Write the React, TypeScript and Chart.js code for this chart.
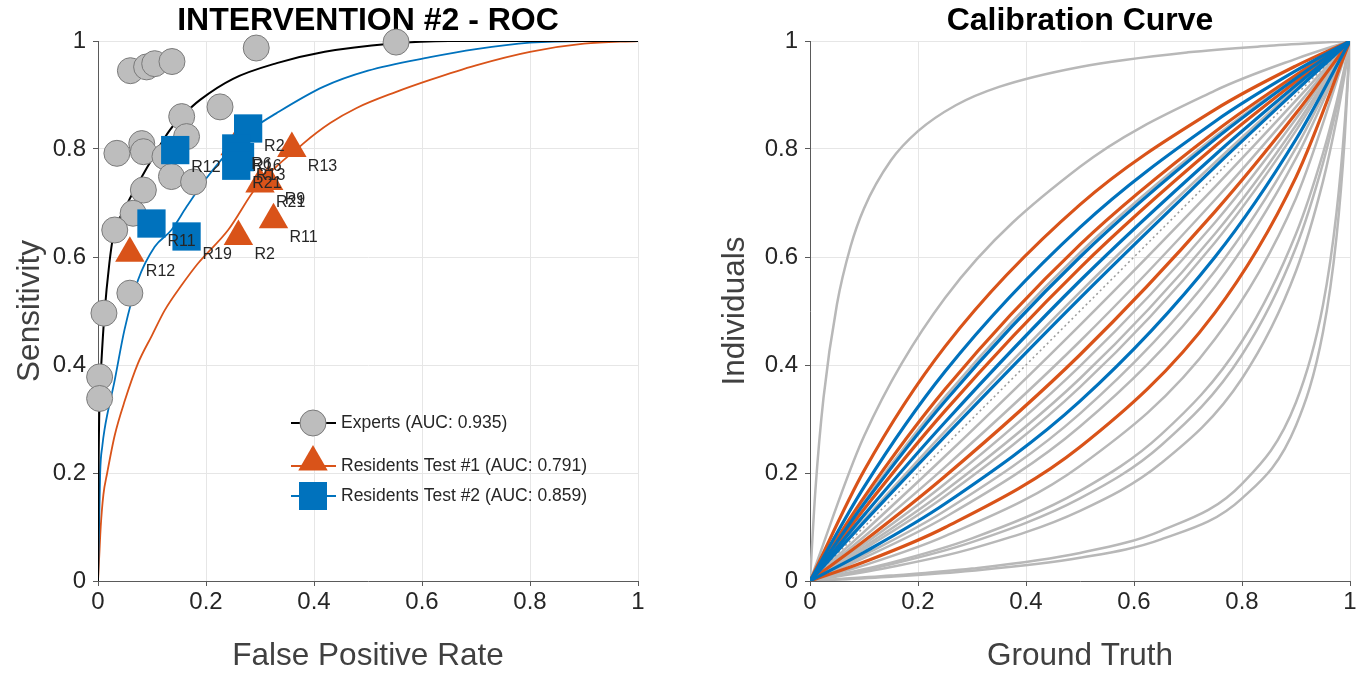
import React, { useEffect, useRef } from 'react';
import { Chart, registerables } from 'chart.js';

Chart.register(...registerables);

const FONT = '"Liberation Sans", Arial, Helvetica, sans-serif';
const ORANGE = '#D95319';
const BLUE = '#0072BD';

// ---------- ROC curves (False Positive Rate, Sensitivity) ----------
const expertsRocFpr = [0, 0.001, 0.003, 0.006, 0.012, 0.021, 0.028, 0.05, 0.078, 0.105, 0.133, 0.16, 0.189, 0.25, 0.331, 0.42, 0.541, 0.65, 0.8, 1];
const expertsRocTpr = [0, 0.2, 0.34, 0.4, 0.495, 0.588, 0.637, 0.69, 0.743, 0.79, 0.835, 0.865, 0.891, 0.93, 0.959, 0.98, 0.995, 1, 1, 1];

const test1RocFpr = [0, 0.002, 0.005, 0.01, 0.017, 0.031, 0.05, 0.074, 0.1, 0.124, 0.155, 0.185, 0.241, 0.294, 0.38, 0.43, 0.479, 0.55, 0.615, 0.7, 0.8, 0.9, 1];
const test1RocTpr = [0, 0.04, 0.1, 0.16, 0.2, 0.27, 0.335, 0.403, 0.455, 0.502, 0.548, 0.588, 0.65, 0.73, 0.81, 0.848, 0.876, 0.905, 0.928, 0.955, 0.98, 0.995, 1];

const test2RocFpr = [0, 0.002, 0.004, 0.008, 0.012, 0.031, 0.049, 0.074, 0.105, 0.136, 0.164, 0.2, 0.25, 0.29, 0.33, 0.417, 0.5, 0.615, 0.7, 0.8, 0.9, 1];
const test2RocTpr = [0, 0.1, 0.2, 0.25, 0.28, 0.372, 0.465, 0.557, 0.619, 0.65, 0.693, 0.745, 0.804, 0.84, 0.866, 0.915, 0.945, 0.97, 0.985, 0.997, 1, 1];

// ---------- Operating points ----------
const expertsFpr = [0.552, 0.293, 0.06, 0.09, 0.105, 0.137, 0.226, 0.155, 0.164, 0.035, 0.081, 0.084, 0.124, 0.136, 0.177, 0.084, 0.065, 0.031, 0.059, 0.011, 0.003, 0.003];
const expertsTpr = [0.998, 0.987, 0.945, 0.952, 0.958, 0.962, 0.878, 0.86, 0.823, 0.792, 0.81, 0.795, 0.786, 0.749, 0.739, 0.724, 0.681, 0.65, 0.533, 0.496, 0.378, 0.338];

const test1Labels = ['R12', 'R2', 'R11', 'R13', 'R9', 'R21', 'R6'];
const test1Fpr = [0.059, 0.26, 0.325, 0.359, 0.316, 0.3, 0.254];
const test1Tpr = [0.607, 0.638, 0.669, 0.801, 0.74, 0.735, 0.804];

const test2Labels = ['R12', 'R11', 'R19', 'R2', 'R16', 'R13', 'R21'];
const test2Fpr = [0.143, 0.099, 0.164, 0.278, 0.256, 0.263, 0.256];
const test2Tpr = [0.798, 0.662, 0.638, 0.838, 0.801, 0.785, 0.769];

const legendTexts = ['Experts (AUC: 0.935)', 'Residents Test #1 (AUC: 0.791)', 'Residents Test #2 (AUC: 0.859)'];

// ---------- Calibration curves (Ground Truth -> Individuals) ----------
const calGridMid = [0, 0.1, 0.25, 0.5, 0.75, 0.9, 1];
const calGridEarly = [0, 0.01, 0.025, 0.05, 0.075, 0.1, 0.15, 0.2, 0.27, 0.35, 0.5, 0.7, 0.85, 1];
const calGridLate = [0, 0.15, 0.3, 0.5, 0.65, 0.8, 0.9, 0.95, 0.975, 0.99, 1];

const grayCurvesEarly = [
  [0, 0.168, 0.339, 0.513, 0.619, 0.69, 0.779, 0.833, 0.881, 0.915, 0.952, 0.979, 0.991, 1],
];
const grayCurvesMid = [
  [0, 0.268, 0.524, 0.767, 0.908, 0.967, 1],
  [0, 0.147, 0.341, 0.608, 0.823, 0.933, 1],
  [0, 0.113, 0.277, 0.535, 0.775, 0.912, 1],
  [0, 0.091, 0.231, 0.474, 0.73, 0.89, 1],
  [0, 0.082, 0.211, 0.444, 0.706, 0.878, 1],
  [0, 0.068, 0.18, 0.398, 0.664, 0.856, 1],
  [0, 0.063, 0.167, 0.375, 0.643, 0.844, 1],
  [0, 0.059, 0.157, 0.359, 0.627, 0.834, 1],
  [0, 0.048, 0.13, 0.31, 0.574, 0.802, 1],
  [0, 0.043, 0.118, 0.286, 0.545, 0.783, 1],
  [0, 0.029, 0.083, 0.213, 0.448, 0.709, 1],
];
const grayCurvesLate = [
  [0, 0.034, 0.079, 0.167, 0.271, 0.444, 0.643, 0.792, 0.886, 0.952, 1],
  [0, 0.031, 0.072, 0.153, 0.251, 0.419, 0.618, 0.774, 0.875, 0.947, 1],
  [0, 0.026, 0.06, 0.13, 0.218, 0.375, 0.574, 0.74, 0.854, 0.937, 1],
  [0, 0.01, 0.023, 0.052, 0.093, 0.18, 0.331, 0.511, 0.682, 0.845, 1],
  [0, 0.008, 0.019, 0.043, 0.077, 0.153, 0.288, 0.461, 0.637, 0.817, 1],
];
const orangeCurves = [
  [0, 0.204, 0.434, 0.697, 0.873, 0.954, 1],
  [0, 0.155, 0.355, 0.623, 0.832, 0.937, 1],
  [0, 0.133, 0.315, 0.58, 0.805, 0.925, 1],
  [0, 0.074, 0.194, 0.419, 0.684, 0.866, 1],
  [0, 0.035, 0.099, 0.248, 0.497, 0.748, 1],
];
const blueCurves = [
  [0, 0.174, 0.388, 0.655, 0.851, 0.945, 1],
  [0, 0.143, 0.333, 0.6, 0.818, 0.931, 1],
  [0, 0.122, 0.294, 0.556, 0.789, 0.918, 1],
  [0, 0.109, 0.268, 0.524, 0.767, 0.908, 1],
  [0, 0.053, 0.143, 0.333, 0.6, 0.818, 1],
];
const diagX = [0, 1];
const diagY = [0, 1];

const axisTicks = [0, 0.2, 0.4, 0.6, 0.8, 1];

// ---------- helpers ----------
const pts = (xs: number[], ys: number[]) => xs.map((x, i) => ({ x, y: ys[i] }));

const tickFont = { family: FONT, size: 24 };
const titleFont = { family: FONT, size: 31.5 };
const headFont = { family: FONT, size: 32, weight: 'bold' as const };

function makeScales(xTitle: string, yTitle: string, yWidth: number, yTitlePad: number) {
  const common = (axisTitle: string) => ({
    type: 'linear' as const,
    min: 0,
    max: 1,
    afterBuildTicks: (s: any) => {
      s.ticks = axisTicks.map((v) => ({ value: v }));
    },
    ticks: {
      font: tickFont,
      color: '#262626',
      callback: (v: any) => String(Math.round(Number(v) * 10) / 10),
    },
    grid: { color: '#e6e6e6', lineWidth: 1, tickColor: '#5a5a5a', tickLength: 5 },
    border: { color: '#5a5a5a', width: 1 },
    title: { display: true, text: axisTitle, font: titleFont, color: '#404040' },
  });
  const x: any = common(xTitle);
  x.ticks = { ...x.ticks, padding: 2, maxRotation: 0 };
  x.title = { ...x.title, padding: { top: 0, bottom: 0 } };
  x.afterFit = (s: any) => {
    s.height = 94;
  };
  const y: any = common(yTitle);
  y.ticks = { ...y.ticks, padding: 7 };
  y.title = { ...y.title, padding: { top: yTitlePad, bottom: 0 } };
  y.afterFit = (s: any) => {
    s.width = yWidth;
  };
  return { x, y };
}

const pointLabelPlugin = {
  id: 'pointLabels',
  afterDatasetsDraw(chart: any) {
    const ctx = chart.ctx;
    ctx.save();
    ctx.font = `16px ${FONT}`;
    ctx.fillStyle = '#262626';
    ctx.textAlign = 'left';
    ctx.textBaseline = 'middle';
    chart.data.datasets.forEach((ds: any, i: number) => {
      if (!ds.pointLabels) return;
      const meta = chart.getDatasetMeta(i);
      meta.data.forEach((el: any, j: number) => {
        ctx.fillText(ds.pointLabels[j], el.x + 16, el.y + 18);
      });
    });
    ctx.restore();
  },
};

const rocLegendPlugin = {
  id: 'rocLegend',
  afterDraw(chart: any) {
    const ctx = chart.ctx;
    const x0 = 291;
    const x1 = 336;
    const xm = 313;
    const rows = [423, 466, 496];
    ctx.save();
    ctx.font = `17.5px ${FONT}`;
    ctx.textBaseline = 'middle';
    ctx.textAlign = 'left';
    // experts
    ctx.strokeStyle = '#000';
    ctx.lineWidth = 2;
    ctx.beginPath();
    ctx.moveTo(x0, rows[0]);
    ctx.lineTo(x1, rows[0]);
    ctx.stroke();
    ctx.beginPath();
    ctx.arc(xm, rows[0], 13, 0, Math.PI * 2);
    ctx.fillStyle = '#bdbdbd';
    ctx.fill();
    ctx.lineWidth = 1;
    ctx.strokeStyle = '#7a7a7a';
    ctx.stroke();
    // test 1
    ctx.strokeStyle = ORANGE;
    ctx.lineWidth = 2;
    ctx.beginPath();
    ctx.moveTo(x0, rows[1]);
    ctx.lineTo(x1, rows[1]);
    ctx.stroke();
    const r = 17;
    const cy = rows[1] - 4;
    ctx.beginPath();
    ctx.moveTo(xm, cy - r);
    ctx.lineTo(xm + r * 0.866, cy + r * 0.5);
    ctx.lineTo(xm - r * 0.866, cy + r * 0.5);
    ctx.closePath();
    ctx.fillStyle = ORANGE;
    ctx.fill();
    // test 2
    ctx.strokeStyle = BLUE;
    ctx.beginPath();
    ctx.moveTo(x0, rows[2]);
    ctx.lineTo(x1, rows[2]);
    ctx.stroke();
    ctx.fillStyle = BLUE;
    ctx.fillRect(xm - 14, rows[2] - 14, 28, 28);
    // texts
    ctx.fillStyle = '#262626';
    legendTexts.forEach((t, i) => ctx.fillText(t, 341, rows[i]));
    ctx.restore();
  },
};

export default function App() {
  const rocRef = useRef<HTMLCanvasElement>(null);
  const calRef = useRef<HTMLCanvasElement>(null);

  useEffect(() => {
    const rocLine = (xs: number[], ys: number[], color: string, width: number, order: number) => ({
      data: pts(xs, ys),
      showLine: true,
      borderColor: color,
      borderWidth: width,
      pointRadius: 0,
      cubicInterpolationMode: 'monotone' as const,
      order,
    });

    const rocChart = new Chart(rocRef.current as HTMLCanvasElement, {
      type: 'scatter',
      data: {
        datasets: [
          rocLine(expertsRocFpr, expertsRocTpr, '#000000', 2, 10),
          rocLine(test2RocFpr, test2RocTpr, BLUE, 1.8, 11),
          rocLine(test1RocFpr, test1RocTpr, ORANGE, 1.8, 12),
          {
            data: pts(expertsFpr, expertsTpr),
            pointStyle: 'circle',
            pointRadius: 13,
            backgroundColor: '#bdbdbd',
            borderColor: '#7a7a7a',
            borderWidth: 1,
            clip: false,
            order: 3,
          },
          {
            data: pts(test1Fpr, test1Tpr),
            pointStyle: 'triangle',
            pointRadius: 17,
            backgroundColor: ORANGE,
            borderColor: ORANGE,
            borderWidth: 0,
            clip: false,
            order: 2,
            pointLabels: test1Labels,
          } as any,
          {
            data: pts(test2Fpr, test2Tpr),
            pointStyle: 'rect',
            pointRadius: 20,
            backgroundColor: BLUE,
            borderColor: BLUE,
            borderWidth: 0,
            clip: false,
            order: 1,
            pointLabels: test2Labels,
          } as any,
        ],
      },
      options: {
        responsive: false,
        animation: false,
        events: [],
        layout: { padding: { left: 0, right: 46, top: 0, bottom: 0 } },
        plugins: {
          legend: { display: false },
          tooltip: { enabled: false },
          title: {
            display: true,
            text: 'INTERVENTION #2 - ROC',
            font: headFont,
            color: '#000',
            padding: { top: 1.5, bottom: 1.1 },
            fullSize: false,
          },
        },
        scales: makeScales('False Positive Rate', 'Sensitivity', 98, 11) as any,
      },
      plugins: [pointLabelPlugin, rocLegendPlugin],
    });

    const curveSet = (grid: number[], rows: number[][], color: string, width: number, order: number) =>
      rows.map((ys) => ({
        data: pts(grid, ys),
        showLine: true,
        borderColor: color,
        borderWidth: width,
        pointRadius: 0,
        cubicInterpolationMode: 'monotone' as const,
        order,
      }));

    const calChart = new Chart(calRef.current as HTMLCanvasElement, {
      type: 'scatter',
      data: {
        datasets: [
          ...curveSet(calGridEarly, grayCurvesEarly, '#b8b8b8', 2.5, 5),
          ...curveSet(calGridMid, grayCurvesMid, '#b8b8b8', 2.5, 5),
          ...curveSet(calGridLate, grayCurvesLate, '#b8b8b8', 2.5, 5),
          {
            data: pts(diagX, diagY),
            showLine: true,
            borderColor: '#9a9a9a',
            borderWidth: 1.5,
            borderDash: [2, 3],
            pointRadius: 0,
            order: 4,
          },
          ...curveSet(calGridMid, orangeCurves, ORANGE, 3.2, 3),
          ...curveSet(calGridMid, blueCurves, BLUE, 3.2, 2),
        ],
      },
      options: {
        responsive: false,
        animation: false,
        events: [],
        layout: { padding: { left: 0, right: 18, top: 0, bottom: 0 } },
        plugins: {
          legend: { display: false },
          tooltip: { enabled: false },
          title: {
            display: true,
            text: 'Calibration Curve',
            font: headFont,
            color: '#000',
            padding: { top: 1.5, bottom: 1.1 },
            fullSize: false,
          },
        },
        scales: makeScales('Ground Truth', 'Individuals', 126, 32) as any,
      },
    });

    return () => {
      rocChart.destroy();
      calChart.destroy();
    };
  }, []);

  return (
    <div style={{ position: 'absolute', left: 0, top: 0, width: 1368, height: 675, background: '#fff' }}>
      <canvas ref={rocRef} width={684} height={675} style={{ position: 'absolute', left: 0, top: 0, width: 684, height: 675 }} />
      <canvas ref={calRef} width={684} height={675} style={{ position: 'absolute', left: 684, top: 0, width: 684, height: 675 }} />
    </div>
  );
}
